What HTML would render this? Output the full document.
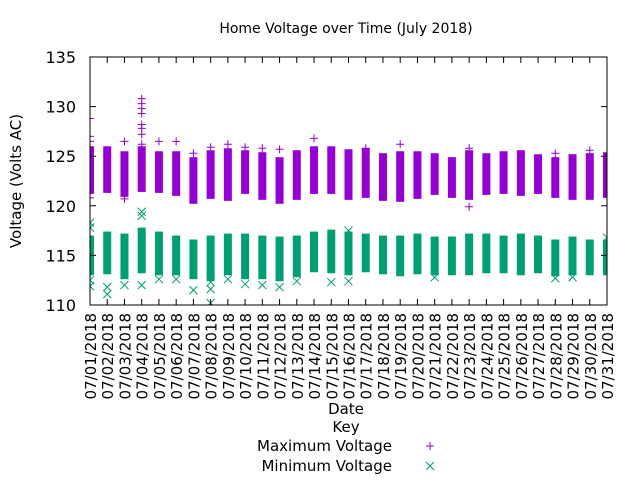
<!DOCTYPE html>
<html><head><meta charset="utf-8"><style>
body{margin:0;background:#fff}
svg text{font-family:"DejaVu Sans","Liberation Sans",sans-serif;fill:#000}
</style></head><body>
<svg id="c" width="640" height="480" viewBox="0 0 640 480">
<text x="346" y="33" font-size="14" text-anchor="middle">Home Voltage over Time (July 2018)</text>
<text transform="translate(21,181) rotate(-90)" font-size="15" text-anchor="middle">Voltage (Volts AC)</text>
<text x="346" y="414" font-size="15" text-anchor="middle">Date</text>
<text x="346" y="432" font-size="15" text-anchor="middle">Key</text>
<g>
<text x="392" y="451" font-size="15" text-anchor="end">Maximum Voltage</text>
<path d="M426,446h8M430,442v8" stroke="#9400d3" stroke-width="1"/>
</g>
<g>
<text x="392" y="471" font-size="15" text-anchor="end">Minimum Voltage</text>
<path d="M426,462l8,8M434,462l-8,8" stroke="#009e73" stroke-width="1"/>
</g>
<defs><clipPath id="pc"><rect x="90" y="57" width="517" height="248"/></clipPath></defs>
<g id="marks" clip-path="url(#pc)"></g>
<g id="axes"></g>
</svg>
<script>
const days=[1,2,3,4,5,6,7,8,9,10,11,12,13,14,15,16,17,18,19,20,21,22,23,24,25,26,27,28,29,30,31];
const maxHigh=[126.0,126.0,125.5,126.0,125.5,125.5,124.9,125.6,125.8,125.6,125.4,124.9,125.6,126.0,126.0,125.7,125.8,125.3,125.5,125.5,125.3,124.9,125.6,125.3,125.5,125.6,125.2,124.9,125.2,125.3,125.4];
const maxLow=[121.2,121.3,120.9,121.4,121.3,121.0,120.2,120.7,120.5,121.2,120.6,120.2,120.6,121.2,121.2,120.6,120.8,120.5,120.4,120.7,121.1,120.8,120.6,121.1,121.2,121.0,121.2,120.8,120.6,120.6,120.8];
const minHigh=[117.0,117.4,117.2,117.8,117.4,117.0,116.6,117.0,117.2,117.2,117.0,116.9,117.0,117.4,117.6,117.4,117.2,117.0,117.0,117.2,116.9,116.9,117.2,117.2,117.0,117.2,117.0,116.6,116.9,116.6,116.6];
const minLow=[113.0,113.1,112.6,113.2,113.0,113.0,112.6,112.4,113.0,112.6,112.6,112.4,112.8,113.3,113.2,113.0,113.3,113.1,112.9,113.1,113.0,113.0,113.0,113.2,113.2,113.0,113.2,112.9,113.0,113.0,113.0];
const maxOutDays=[1,1,1,1,3,3,4,4,4,4,4,4,4,4,5,6,7,8,9,10,11,12,14,17,19,23,23,28,30,31];
const maxOutVals=[128.8,127.0,126.5,120.8,126.5,120.7,130.8,130.3,129.8,129.3,128.2,127.8,127.2,126.2,126.5,126.5,125.3,125.9,126.2,125.9,125.8,125.7,126.8,125.8,126.2,125.8,119.9,125.3,125.6,125.3];
const minOutDays=[1,1,1,1,2,2,3,3,4,4,4,5,6,7,8,8,8,9,10,11,12,13,15,16,16,21,28,29,31];
const minOutVals=[118.3,117.8,112.5,111.9,111.8,111.1,113.4,112.0,119.4,119.0,112.0,112.6,112.6,111.5,112.3,111.6,110.2,112.6,112.1,112.0,111.8,112.4,112.3,112.4,117.5,112.8,112.7,112.8,116.8];
const yTicks=[110,115,120,125,130,135];
const NS="http://www.w3.org/2000/svg";
const X0=90,X1=607,Y0=305,Y1=57;
const xs=d=>X0+(d-1)*(X1-X0)/30;
const ys=v=>Y0-(v-110)*(Y0-Y1)/25;
const marks=document.getElementById('marks'),axes=document.getElementById('axes');
function mk(p,t,a){const e=document.createElementNS(NS,t);for(const k in a)e.setAttribute(k,a[k]);p.appendChild(e);return e;}
days.forEach((d,i)=>{
 let r=mk(marks,'rect',{x:xs(d)-4,y:ys(maxHigh[i]),width:8,height:ys(maxLow[i])-ys(maxHigh[i]),fill:'#9400d3'});
 
 
 let g=mk(marks,'rect',{x:xs(d)-4,y:ys(minHigh[i]),width:8,height:ys(minLow[i])-ys(minHigh[i]),fill:'#009e73'});
 
 
});
maxOutDays.forEach((d,i)=>{
 const x=xs(d),y=ys(maxOutVals[i]);
 const p=mk(marks,'path',{d:`M${x-4},${y}h8M${x},${y-4}v8`,stroke:'#9400d3','stroke-width':1});
 
 
});
minOutDays.forEach((d,i)=>{
 const x=xs(d),y=ys(minOutVals[i]);
 const p=mk(marks,'path',{d:`M${x-4},${y-4}l8,8M${x+4},${y-4}l-8,8`,stroke:'#009e73','stroke-width':1});
 
 
});
const fr=mk(axes,'rect',{x:X0,y:Y1,width:X1-X0,height:Y0-Y1,fill:'none',stroke:'#000','stroke-width':1});


yTicks.forEach(v=>{
 const y=ys(v);
 mk(axes,'path',{d:`M${X0},${y}h6M${X1},${y}h-6`,stroke:'#000'});
 const t=mk(axes,'text',{x:76,y:y+6,'font-size':16,'text-anchor':'end'});
 t.textContent=v;
 
 
});
days.forEach(d=>{
 const x=xs(d);
 mk(axes,'path',{d:`M${x},${Y0}v-6M${x},${Y1}v6`,stroke:'#000'});
 const t=mk(axes,'text',{transform:`translate(${x+6},${Y0+8}) rotate(-90)`,'font-size':15,'text-anchor':'end'});
 t.textContent='07/'+String(d).padStart(2,'0')+'/2018';
 
 
});
</script>
</body></html>
